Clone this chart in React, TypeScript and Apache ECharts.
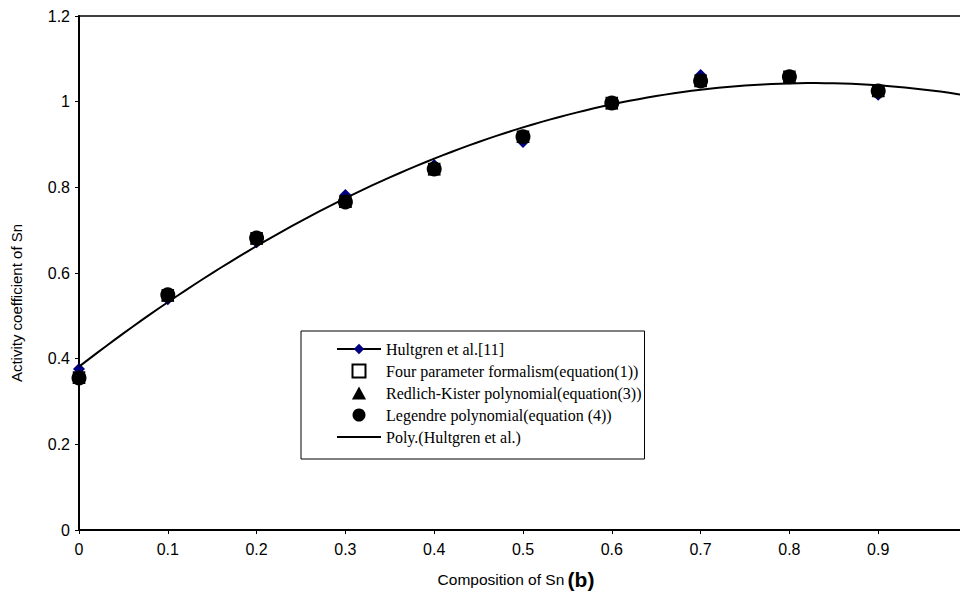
import React, { useEffect, useRef } from "react";
import * as echarts from "echarts";

const compositions = [0, 0.1, 0.2, 0.3, 0.4, 0.5, 0.6, 0.7, 0.8, 0.9];
const hultgren = [0.376, 0.539, 0.672, 0.782, 0.852, 0.906, 0.997, 1.062, 1.058, 1.016];
const fourParameter = [0.356, 0.548, 0.681, 0.767, 0.843, 0.918, 0.997, 1.049, 1.058, 1.025];
const redlichKister = [0.356, 0.548, 0.681, 0.767, 0.843, 0.919, 0.997, 1.049, 1.058, 1.026];
const legendre = [0.355, 0.549, 0.682, 0.766, 0.843, 0.918, 0.997, 1.048, 1.058, 1.025];

const seriesNames = [
  "Hultgren et al.[11]",
  "Four parameter formalism(equation(1))",
  "Redlich-Kister polynomial(equation(3))",
  "Legendre polynomial(equation (4))",
  "Poly.(Hultgren et al.)",
];

// Order-2 least-squares trendline fitted to the Hultgren data (as the spreadsheet's "Poly." trendline)
function quadFit(xs: number[], ys: number[]) {
  let s0 = 0, s1 = 0, s2 = 0, s3 = 0, s4 = 0, t0 = 0, t1 = 0, t2 = 0;
  for (let i = 0; i < xs.length; i++) {
    const x = xs[i], y = ys[i];
    s0 += 1; s1 += x; s2 += x * x; s3 += x * x * x; s4 += x * x * x * x;
    t0 += y; t1 += x * y; t2 += x * x * y;
  }
  const M = [
    [s0, s1, s2, t0],
    [s1, s2, s3, t1],
    [s2, s3, s4, t2],
  ];
  for (let c = 0; c < 3; c++) {
    let p = c;
    for (let r = c + 1; r < 3; r++) if (Math.abs(M[r][c]) > Math.abs(M[p][c])) p = r;
    [M[c], M[p]] = [M[p], M[c]];
    for (let r = 0; r < 3; r++) {
      if (r === c) continue;
      const f = M[r][c] / M[c][c];
      for (let k = c; k < 4; k++) M[r][k] -= f * M[c][k];
    }
  }
  return [M[0][3] / M[0][0], M[1][3] / M[1][1], M[2][3] / M[2][2]];
}

export default function App() {
  const ref = useRef<HTMLDivElement>(null);
  useEffect(() => {
    if (!ref.current) return;
    const chart = echarts.init(ref.current, undefined, { renderer: "svg" });
    const [a, b, c] = quadFit(compositions, hultgren);
    const trend: number[][] = [];
    for (let i = 0; i <= 100; i++) {
      const x = i / 100;
      trend.push([x, a + b * x + c * x * x]);
    }
    const pts = (vals: number[]) => compositions.map((x, i) => [x, vals[i]]);
    const sans = "Liberation Sans, Arial, sans-serif";
    const tickFont = { fontFamily: sans, fontSize: 16, color: "#000" };
    const nameFont = { fontFamily: sans, fontSize: 15.5, color: "#000" };

    chart.setOption({
      animation: false,
      backgroundColor: "#fff",
      grid: {
        left: 79,
        top: 16,
        width: 888,
        height: 514,
        show: true,
        borderColor: "#000",
        borderWidth: 1.5,
        containLabel: false,
        outerBoundsMode: "none",
      },
      xAxis: {
        type: "value",
        min: 0,
        max: 1,
        interval: 0.1,
        splitLine: { show: false },
        axisLine: { lineStyle: { color: "#000", width: 2 } },
        axisTick: { show: true, length: 4, lineStyle: { color: "#000", width: 1 } },
        axisLabel: { ...tickFont, margin: 11, showMaxLabel: false },
        name: "{a|Composition of Sn} {b|(b)}",
        nameLocation: "middle",
        nameGap: 39,
        nameTextStyle: {
          padding: [0, 14, 0, 0],
          rich: {
            a: { ...nameFont },
            b: { fontFamily: sans, fontSize: 21, fontWeight: "bold", color: "#000" },
          },
        },
      },
      yAxis: {
        type: "value",
        min: 0,
        max: 1.2,
        interval: 0.2,
        splitLine: { show: false },
        axisLine: { show: true, lineStyle: { color: "#000", width: 2 } },
        axisTick: { show: true, length: 4, lineStyle: { color: "#000", width: 1 } },
        axisLabel: { ...tickFont, margin: 9 },
        name: "Activity coefficient of Sn",
        nameLocation: "middle",
        nameGap: 55,
        nameTextStyle: { ...nameFont, fontSize: 15, padding: [0, 60, 0, 0] },
      },
      legend: {
        orient: "vertical",
        left: 301,
        top: 331,
        padding: [7, 3, 11, 35],
        itemWidth: 44,
        itemHeight: 13,
        itemGap: 0,
        symbolKeepAspect: true,
        borderColor: "#000",
        borderWidth: 1,
        backgroundColor: "#fff",
        textStyle: {
          fontFamily: "Liberation Serif, Times New Roman, serif",
          fontSize: 16,
          color: "#000",
          lineHeight: 22,
        },
        data: [
          { name: seriesNames[0], lineStyle: { color: "#000", width: 2, opacity: 1 } },
          { name: seriesNames[1], icon: "path://M0,0L10,0L10,10L0,10Z" },
          { name: seriesNames[2], icon: "path://M6,0L12,11L0,11Z" },
          { name: seriesNames[3] },
          { name: seriesNames[4], itemStyle: { opacity: 0 } },
        ],
      },
      series: [
        {
          name: seriesNames[0],
          type: "line",
          data: pts(hultgren),
          symbol: "diamond",
          symbolSize: 12,
          showAllSymbol: true,
          itemStyle: { color: "#000080" },
          lineStyle: { width: 0, opacity: 0, color: "#000" },
          z: 2,
        },
        {
          name: seriesNames[1],
          type: "scatter",
          data: pts(fourParameter),
          symbol: "rect",
          symbolSize: 11,
          itemStyle: { color: "#fff", borderColor: "#000", borderWidth: 1.5, opacity: 1 },
          z: 3,
        },
        {
          name: seriesNames[2],
          type: "scatter",
          data: pts(redlichKister),
          symbol: "triangle",
          symbolSize: 13,
          itemStyle: { color: "#000", opacity: 1 },
          z: 4,
        },
        {
          name: seriesNames[3],
          type: "scatter",
          data: pts(legendre),
          symbol: "circle",
          symbolSize: 15,
          itemStyle: { color: "#000", opacity: 1 },
          z: 5,
        },
        {
          name: seriesNames[4],
          type: "line",
          data: trend,
          symbol: "none",
          smooth: false,
          lineStyle: { color: "#000", width: 2 },
          itemStyle: { color: "#000" },
          z: 6,
        },
      ],
    });
    return () => chart.dispose();
  }, []);
  return <div ref={ref} style={{ width: 960, height: 597, position: "absolute", left: 0, top: 0 }} />;
}
